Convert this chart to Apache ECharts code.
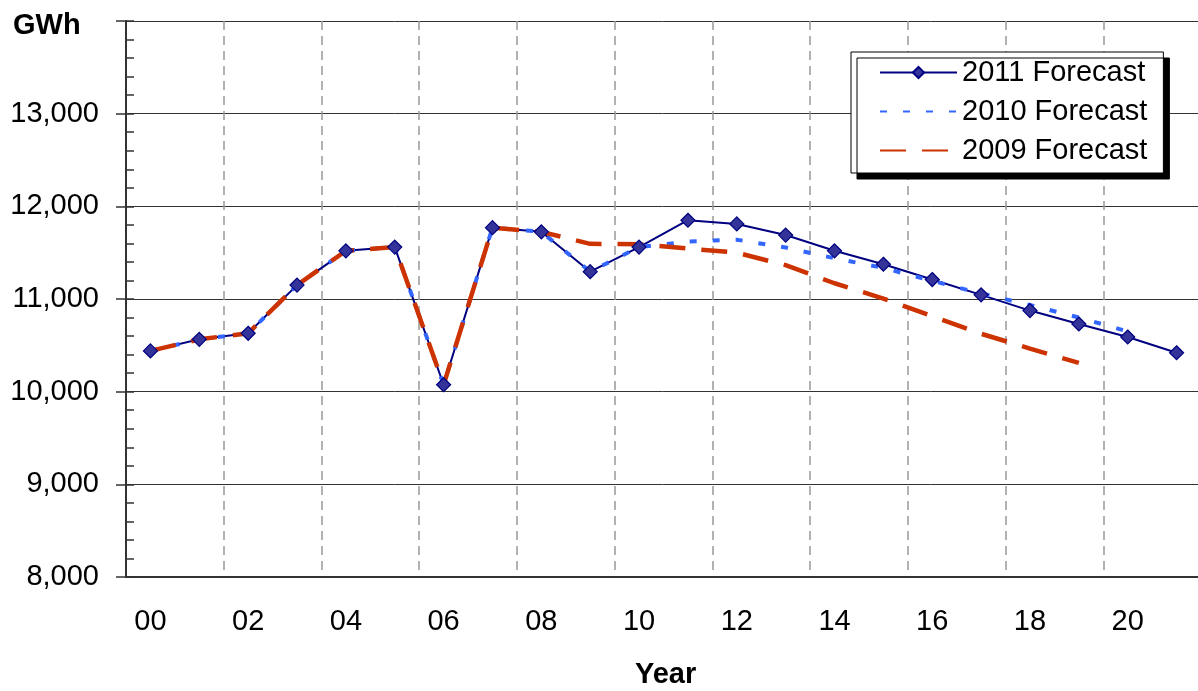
<!DOCTYPE html>
<html>
<head>
<meta charset="utf-8">
<script src="https://cdn.jsdelivr.net/npm/echarts@6/dist/echarts.min.js"></script>
<style>
  html, body { margin: 0; padding: 0; background: #fff; }
  #main { width: 1198px; height: 691px; }
</style>
</head>
<body>
<div id="main"></div>
<script>
"use strict";
var years = ['00','01','02','03','04','05','06','07','08','09','10',
             '11','12','13','14','15','16','17','18','19','20','21'];
var f2011 = [10440, 10565, 10630, 11150, 11520, 11560, 10075, 11770, 11725, 11295, 11560,
             11850, 11810, 11690, 11520, 11375, 11210, 11045, 10875, 10730, 10590, 10420];
var f2010 = [10440, 10565, 10630, 11150, 11520, 11560, 10075, 11770, 11725, 11295, 11560,
             11620, 11640, 11555, 11440, 11335, 11195, 11060, 10935, 10800, 10650, null];
var f2009 = [10440, 10565, 10630, 11150, 11520, 11560, 10075, 11770, 11725, 11595, 11590,
             11545, 11500, 11365, 11170, 11005, 10815, 10625, 10465, 10310, null, null];
var seriesNames = ['2011 Forecast', '2010 Forecast', '2009 Forecast'];
var yMin = 8000, yMax = 14000, yStep = 1000;

var font = 'Liberation Sans, Arial, sans-serif';
var fs = 29;

function fmtNum(v) {
    if (v >= yMax) return '';
    return String(v).replace(/\B(?=(\d{3})+(?!\d))/g, ',');
}

var option = {
    animation: false,
    backgroundColor: '#fff',
    textStyle: { fontFamily: font },
    title: [
        { text: 'GWh', left: 8, top: 6,
          textStyle: { fontSize: fs, fontWeight: 'bold', color: '#000', fontFamily: font } },
        { text: 'Year', left: 630, top: 655,
          textStyle: { fontSize: fs, fontWeight: 'bold', color: '#000', fontFamily: font } }
    ],
    legend: {
        data: [
            { name: seriesNames[0] },
            { name: seriesNames[1], itemStyle: { opacity: 0 } },
            { name: seriesNames[2], itemStyle: { opacity: 0 } }
        ],
        orient: 'vertical',
        left: 851, top: 52,
        padding: [6, 16, 8, 28],
        itemGap: 10,
        itemWidth: 77, itemHeight: 14,
        backgroundColor: '#fff',
        borderColor: '#000', borderWidth: 1, borderRadius: 0,
        shadowColor: '#000', shadowBlur: 0, shadowOffsetX: 6, shadowOffsetY: 6,
        textStyle: { fontSize: fs, color: '#000', fontFamily: font },
        selectedMode: false
    },
    grid: { left: 126, right: -3, top: 21, bottom: 114, containLabel: false, outerBoundsMode: 'none' },
    xAxis: [{
        type: 'category', data: years, boundaryGap: true,
        axisLine: { lineStyle: { color: '#333', width: 2 } },
        axisTick: { interval: 1, length: 10, lineStyle: { color: '#333', width: 1.5 } },
        axisLabel: { interval: 1, fontSize: fs, color: '#000', margin: 30, fontFamily: font },
        splitLine: { show: true, interval: 1,
                     lineStyle: { color: '#999', width: 1.5, type: [9, 6] } }
    }, {
        type: 'category', data: years, boundaryGap: true, position: 'bottom',
        axisLine: { show: false },
        axisTick: { inside: true, interval: 0, length: 8, lineStyle: { color: '#333', width: 1.5 } },
        axisLabel: { show: false },
        splitLine: { show: false }
    }],
    yAxis: [{
        type: 'value', min: yMin, max: yMax, interval: yStep,
        axisLine: { show: true, lineStyle: { color: '#333', width: 2 } },
        axisTick: { show: true, length: 10, lineStyle: { color: '#333', width: 1.5 } },
        axisLabel: { fontSize: fs, color: '#000', margin: 27, formatter: fmtNum, fontFamily: font },
        splitLine: { show: true, lineStyle: { color: '#333', width: 1 } }
    }, {
        type: 'value', min: yMin, max: yMax, interval: yStep, position: 'left',
        axisLine: { show: false },
        axisTick: { show: true, inside: true, length: 8, lineStyle: { color: '#333', width: 1.5 } },
        minorTick: { show: true, splitNumber: 5, length: 8, lineStyle: { color: '#333', width: 1.5 } },
        axisLabel: { show: false },
        splitLine: { show: false }
    }],
    series: [{
        name: seriesNames[0], type: 'line', data: f2011, z: 2,
        symbol: 'diamond', symbolSize: 14, showSymbol: false,
        itemStyle: { color: '#333399', borderColor: '#000080', borderWidth: 1 },
        lineStyle: { color: '#000080', width: 2 },
        emphasis: { disabled: true }, silent: true
    }, {
        name: seriesNames[1], type: 'line', data: f2010, z: 3,
        symbol: 'none',
        itemStyle: { color: '#3366FF' },
        lineStyle: { color: '#3366FF', width: 4, type: [7, 16] },
        emphasis: { disabled: true }, silent: true
    }, {
        name: seriesNames[2], type: 'line', data: f2009, z: 4,
        symbol: 'none',
        itemStyle: { color: '#CC3300' },
        lineStyle: { color: '#CC3300', width: 4.5, type: [26, 16] },
        emphasis: { disabled: true }, silent: true
    }, {
        name: '2011 markers', type: 'scatter', data: f2011, z: 5,
        symbol: 'diamond', symbolSize: 14,
        itemStyle: { color: '#333399', borderColor: '#000080', borderWidth: 1.2, opacity: 1 },
        emphasis: { disabled: true }, silent: true
    }]
};

var myChart = echarts.init(document.getElementById('main'));
myChart.setOption(option);
</script>
</body>
</html>
